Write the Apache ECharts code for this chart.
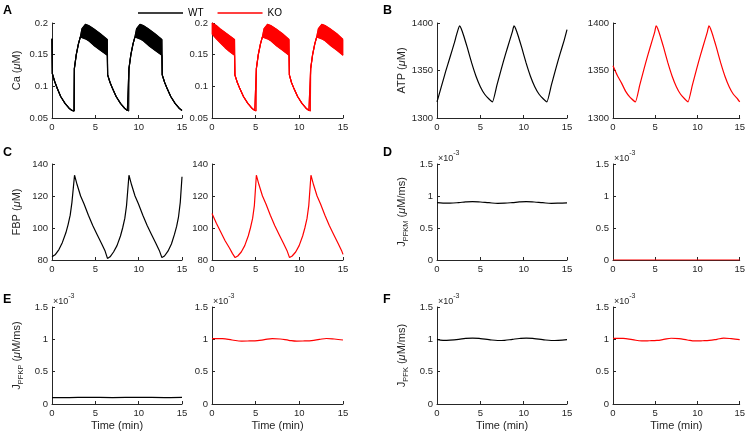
<!DOCTYPE html>
<html><head><meta charset="utf-8">
<script src="https://cdn.jsdelivr.net/npm/echarts@6/dist/echarts.min.js"></script>
<style>html,body{margin:0;padding:0;background:#fff}#c{width:748px;height:432px}</style>
</head><body><div id="c"></div>
<script>
// ---------- DATA ----------
const legendNames = ['WT', 'KO'];
const xTicks = { min: 0, max: 15, interval: 5 };

// Panel A: Ca (uM) — upper/lower envelopes of the fast oscillation band
const caT_WT = [0,0.04,0.3,0.6,1.0,1.5,2.0,2.3,2.55,2.58,2.8,3.05,3.27,3.46,3.85,4.23,4.8,5.58,6.38,6.42,6.7,7.0,7.4,7.9,8.4,8.7,8.85,8.88,9.1,9.35,9.57,9.76,10.15,10.53,11.1,11.88,12.68,12.72,13.0,13.3,13.7,14.2,14.7,15];
const caUp_WT = [0.175,0.12,0.108,0.097,0.084,0.073,0.065,0.062,0.061,0.128,0.15,0.167,0.178,0.191,0.198,0.196,0.191,0.183,0.174,0.118,0.106,0.096,0.084,0.073,0.065,0.062,0.061,0.128,0.15,0.167,0.178,0.191,0.198,0.196,0.191,0.183,0.174,0.118,0.106,0.096,0.084,0.073,0.065,0.062];
const caLo_WT = [0.175,0.12,0.108,0.097,0.084,0.073,0.065,0.062,0.061,0.128,0.15,0.167,0.178,0.177,0.175,0.172,0.165,0.157,0.149,0.118,0.106,0.096,0.084,0.073,0.065,0.062,0.061,0.128,0.15,0.167,0.178,0.177,0.175,0.172,0.165,0.157,0.149,0.118,0.106,0.096,0.084,0.073,0.065,0.062];
const caT_KO = [0,0.5,1.0,1.5,2.0,2.58,2.62,2.9,3.2,3.6,4.1,4.6,4.9,5.05,5.08,5.3,5.55,5.77,5.96,6.35,6.73,7.3,8.08,8.82,8.86,9.1,9.4,9.8,10.3,10.8,11.1,11.27,11.3,11.52,11.77,11.99,12.18,12.57,12.95,13.52,14.3,15];
const caUp_KO = [0.2,0.196,0.19,0.185,0.18,0.174,0.118,0.106,0.096,0.084,0.073,0.065,0.062,0.061,0.128,0.15,0.167,0.178,0.191,0.198,0.196,0.191,0.183,0.174,0.118,0.106,0.096,0.084,0.073,0.065,0.062,0.061,0.128,0.15,0.167,0.178,0.191,0.198,0.196,0.191,0.183,0.174];
const caLo_KO = [0.183,0.175,0.168,0.161,0.155,0.149,0.118,0.106,0.096,0.084,0.073,0.065,0.062,0.061,0.128,0.15,0.167,0.178,0.177,0.175,0.172,0.165,0.157,0.149,0.118,0.106,0.096,0.084,0.073,0.065,0.062,0.061,0.128,0.15,0.167,0.178,0.177,0.175,0.172,0.165,0.157,0.149];

// Panel B: ATP (uM)
const atpT_WT = [0,0.5,1.0,1.5,2.0,2.3,2.6,2.8,3.1,3.5,4.0,4.5,5.0,5.5,6.0,6.4,6.9,7.4,7.9,8.4,8.7,8.88,9.08,9.38,9.78,10.28,10.78,11.28,11.78,12.28,12.68,13.18,13.68,14.18,14.68,15];
const atp_WT  = [1317,1333,1349,1364,1379,1389,1397,1394,1386,1374,1358,1344,1333,1325,1320,1317,1334,1351,1367,1382,1391,1397,1394,1386,1374,1358,1344,1333,1325,1320,1317,1334,1351,1367,1382,1393];
const atpT_KO = [0,0.5,1.0,1.5,2.0,2.65,3.15,3.65,4.15,4.65,4.95,5.1,5.3,5.6,6.0,6.5,7.0,7.5,8.0,8.5,8.88,9.38,9.88,10.38,10.88,11.18,11.35,11.55,11.85,12.25,12.75,13.25,13.75,14.25,14.75,15];
const atp_KO  = [1355,1345,1337,1328,1322,1317,1334,1351,1367,1382,1391,1397,1394,1386,1374,1358,1344,1333,1325,1320,1317,1334,1351,1367,1382,1391,1397,1394,1386,1374,1358,1344,1333,1325,1320,1317];

// Panel C: FBP (uM)
const fbpT_WT = [0,0.4,0.8,1.2,1.6,1.85,2.1,2.3,2.6,2.9,3.3,3.7,4.2,4.7,5.2,5.7,6.1,6.4,6.7,7.1,7.5,7.9,8.15,8.4,8.6,8.88,9.18,9.58,9.98,10.48,10.98,11.48,11.98,12.38,12.68,12.98,13.38,13.78,14.13,14.38,14.6,14.8,15];
const fbp_WT  = [82,83.5,86.5,91,97,102,108,116,133,127,120,115,108,101.5,96,90.5,86,81,82,85,89,95,100,106,114,133,127,120,115,108,101.5,96,90.5,86,81.5,82.5,85.5,90,96,101,107,116,132];
const fbpT_KO = [0,0.5,1.0,1.5,2.0,2.35,2.65,2.95,3.35,3.75,4.15,4.4,4.65,4.85,5.08,5.38,5.78,6.18,6.68,7.18,7.68,8.18,8.58,8.88,9.18,9.58,9.98,10.38,10.63,10.88,11.08,11.33,11.63,12.03,12.43,12.93,13.43,13.93,14.43,14.83,15];
const fbp_KO  = [109,103,97.5,92,87.5,84,81.5,82.5,85,89,95,100,106,114,133,127,120,115,108,101.5,96,90.5,86,81.5,82.5,85,89,95,100,106,114,133,127,120,115,108,101.5,96,90.5,86,83.5];

// Panel D: J_PFKM (x1e-3 uM/ms)
const pfkmT_WT = [0,0.7,1.5,2.5,3.3,4.1,5,6,7,7.8,8.7,9.5,10.3,11.2,12.2,13.2,14,15];
const pfkm_WT  = [0.895,0.888,0.889,0.897,0.907,0.912,0.906,0.895,0.886,0.888,0.897,0.907,0.912,0.906,0.895,0.886,0.888,0.893];
const pfkmT_KO = [0,15];
const pfkm_KO  = [0,0];

// Panel E: J_PFKP (x1e-3 uM/ms)
const pfkpT_WT = [0,2,4,7,10,13,15];
const pfkp_WT  = [0.1,0.1,0.103,0.099,0.103,0.099,0.101];
const pfkpT_KO = [0,1.2,2.3,3.4,4.3,5.2,6,6.9,7.8,8.8,9.7,10.6,11.4,12.3,13.1,14,15];
const pfkp_KO  = [1.01,1.01,0.99,0.972,0.975,0.98,0.995,1.012,1.005,0.985,0.972,0.975,0.98,0.998,1.013,1.005,0.99];

// Panel F: J_PFK (x1e-3 uM/ms)
const pfkT_WT = [0,0.7,1.5,2.5,3.3,4.1,5,6,7,7.8,8.7,9.5,10.3,11.2,12.2,13.2,14,15];
const pfk_WT  = [1.0,0.985,0.988,1.0,1.015,1.02,1.012,0.995,0.982,0.985,1.0,1.013,1.02,1.012,0.995,0.982,0.985,0.995];
const pfkT_KO = [0,1.2,2.3,3.4,4.3,5.2,6,6.9,7.8,8.8,9.7,10.6,11.4,12.3,13.1,14,15];
const pfk_KO  = [1.015,1.015,0.995,0.975,0.978,0.983,0.998,1.017,1.01,0.99,0.975,0.978,0.983,1.0,1.018,1.01,0.995];

// y-axis ranges
const yCa  = { min: 0.05, max: 0.2, interval: 0.05 };
const yATP = { min: 1300, max: 1400, interval: 50 };
const yFBP = { min: 80, max: 140, interval: 20 };
const yJ   = { min: 0, max: 1.5, interval: 0.5 };

const panelLetters = ['A','B','C','D','E','F'];
// ---------- LAYOUT / STYLE ----------
const FONT = '"Liberation Sans", Arial, Helvetica, sans-serif';
const AX = '#262626';
const BLACK = '#000000', RED = '#ff0000';
const cols = [{left:52,width:130},{left:212,width:131},{left:437,width:130},{left:613,width:130}];
const rows = [{top:23,height:95},{top:164,height:96},{top:307,height:97}];

const nameRich = {
  n: {fontSize:11, fontFamily:FONT, color:AX, lineHeight:14, verticalAlign:'top'},
  i: {fontSize:11, fontFamily:FONT, color:AX, fontStyle:'italic', lineHeight:14, verticalAlign:'top'},
  s: {fontSize:7.5, fontFamily:FONT, color:AX, lineHeight:7, verticalAlign:'bottom'}
};
const yNames = {
  0: '{n|Ca (}{i|μ}{n|M)}',
  2: '{n|ATP (}{i|μ}{n|M)}',
  4: '{n|FBP (}{i|μ}{n|M)}',
  6: '{n|J}{s|PFKM}{n| (}{i|μ}{n|M/ms)}',
  8: '{n|J}{s|PFKP}{n| (}{i|μ}{n|M/ms)}',
  10: '{n|J}{s|PFK}{n| (}{i|μ}{n|M/ms)}'
};
const yRanges = [yCa,yCa,yATP,yATP,yFBP,yFBP,yJ,yJ,yJ,yJ,yJ,yJ];
const smoothing = [0,0,0.15,0.15,0,0,0.4,0,0.4,0.4,0.4,0.4];

const zip = (t, v) => t.map((x, k) => [x, v[k]]);
const fmt = v => String(Math.round(v * 1000) / 1000);

const grids = [], xAxes = [], yAxes = [];
for (let i = 0; i < 12; i++) {
  const c = cols[i % 4], r = rows[Math.floor(i / 4)];
  grids.push({left:c.left, top:r.top, width:c.width, height:r.height, containLabel:false});
  const bottomRow = i >= 8;
  xAxes.push({
    type:'value', gridIndex:i, min:xTicks.min, max:xTicks.max, interval:xTicks.interval,
    name: bottomRow ? 'Time (min)' : '', nameLocation:'middle', nameGap:16,
    nameTextStyle:{fontSize:11, fontFamily:FONT, color:AX},
    axisLine:{show:true, onZero:false, lineStyle:{color:AX, width:1}},
    axisTick:{show:true, inside:true, length:3, lineStyle:{color:AX}},
    axisLabel:{color:AX, fontSize:9.5, margin:4, fontFamily:FONT, formatter:fmt},
    splitLine:{show:false}
  });
  const yr = yRanges[i];
  yAxes.push({
    type:'value', gridIndex:i, min:yr.min, max:yr.max, interval:yr.interval,
    name: yNames[i] || '', nameLocation:'middle', nameGap:27, nameRotate:90,
    nameTextStyle:{fontSize:11, fontFamily:FONT, color:AX, rich:nameRich},
    axisLine:{show:true, onZero:false, lineStyle:{color:AX, width:1}},
    axisTick:{show:true, inside:true, length:3, lineStyle:{color:AX}},
    axisLabel:{color:AX, fontSize:9.5, margin:4, fontFamily:FONT, formatter:fmt},
    splitLine:{show:false}
  });
}

function line(i, name, t, v, color) {
  return {type:'line', name, xAxisIndex:i, yAxisIndex:i, data:zip(t, v), symbol:'none', showSymbol:false,
    smooth: smoothing[i] || false, color, lineStyle:{color, width:1.2}, silent:true, animation:false};
}
// Filled band between upper and lower envelope, built as one polygon through the axis scales
function band(i, t, up, lo, color) {
  return {type:'custom', xAxisIndex:i, yAxisIndex:i, data:t.map((x, k) => [x, up[k], lo[k]]),
    silent:true, animation:false, encode:{x:0, y:[1,2]},
    renderItem:(params, api) => {
      if (params.dataIndexInside !== 0) return null;
      const n = params.dataInsideLength;
      const upper = [], lower = [];
      for (let k = 0; k < n; k++) {
        upper.push(api.coord([api.value(0, k), api.value(1, k)]));
        lower.push(api.coord([api.value(0, k), api.value(2, k)]));
      }
      const pts = upper.concat(lower.reverse());
      return {type:'polygon', shape:{points:pts}, style:{fill:color, stroke:color, lineWidth:0.8}};
    }};
}

const series = [
  line(0,'WT',caT_WT,caUp_WT,BLACK), line(0,'WT',caT_WT,caLo_WT,BLACK),
  line(1,'KO',caT_KO,caUp_KO,RED),   line(1,'KO',caT_KO,caLo_KO,RED),
  line(2,'WT',atpT_WT,atp_WT,BLACK), line(3,'KO',atpT_KO,atp_KO,RED),
  line(4,'WT',fbpT_WT,fbp_WT,BLACK), line(5,'KO',fbpT_KO,fbp_KO,RED),
  line(6,'WT',pfkmT_WT,pfkm_WT,BLACK), line(7,'KO',pfkmT_KO,pfkm_KO,RED),
  line(8,'WT',pfkpT_WT,pfkp_WT,BLACK), line(9,'KO',pfkpT_KO,pfkp_KO,RED),
  line(10,'WT',pfkT_WT,pfk_WT,BLACK), line(11,'KO',pfkT_KO,pfk_KO,RED),
  band(0,caT_WT,caUp_WT,caLo_WT,BLACK), band(1,caT_KO,caUp_KO,caLo_KO,RED)
];

const graphic = [];
const letterPos = [[3,4],[383,4],[3,146],[383,146],[3,293],[383,293]];
panelLetters.forEach((L, k) => graphic.push({type:'text', left:letterPos[k][0], top:letterPos[k][1],
  style:{text:L, font:'bold 12.5px ' + FONT, fill:'#000'}}));
[6,7,8,9,10,11].forEach(i => {
  const c = cols[i % 4], r = rows[Math.floor(i / 4)];
  graphic.push({type:'text', left:c.left + 1, top:r.top - 14, silent:true,
    style:{text:'{a|×10}{b|-3}', rich:{
      a:{fontSize:9, fontFamily:FONT, fill:AX, lineHeight:13, verticalAlign:'bottom'},
      b:{fontSize:7, fontFamily:FONT, fill:AX, lineHeight:8, verticalAlign:'top'}}}});
});

const chart = echarts.init(document.getElementById('c'), null, {renderer:'canvas'});
chart.setOption({
  animation:false,
  backgroundColor:'#fff',
  legend:{data:legendNames.map(n => ({name:n, icon:'rect'})), left:133, top:3, itemWidth:45, itemHeight:1.5, itemGap:14,
    selectedMode:false, textStyle:{fontSize:10, color:'#000', fontFamily:FONT}},
  grid:grids, xAxis:xAxes, yAxis:yAxes, series, graphic
});
</script></body></html>
